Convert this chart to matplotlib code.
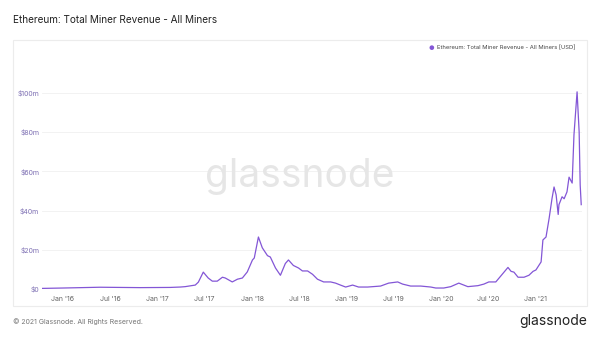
import matplotlib
matplotlib.use("Agg")
import matplotlib.pyplot as plt
import matplotlib.dates as mdates
from matplotlib.patches import Rectangle
import numpy as np
import pandas as pd

plt.rcParams['font.family'] = ['Inter', 'DejaVu Sans']

title = "Ethereum: Total Miner Revenue - All Miners"
series_name = "Ethereum: Total Miner Revenue - All Miners [USD]"

dates = [
    "2015-10-12", "2016-01-01", "2016-05-23", "2016-10-25", "2017-02-18",
    "2017-03-29", "2017-04-17", "2017-05-26", "2017-06-07", "2017-06-26",
    "2017-07-15", "2017-07-31", "2017-08-19", "2017-09-08", "2017-09-19",
    "2017-10-16", "2017-11-05", "2017-11-24", "2017-12-13", "2018-01-02",
    "2018-01-09", "2018-01-25", "2018-02-09", "2018-03-01", "2018-03-12",
    "2018-04-01", "2018-04-20", "2018-05-09", "2018-05-21", "2018-06-09",
    "2018-06-29", "2018-07-14", "2018-08-03", "2018-08-22", "2018-09-10",
    "2018-10-04", "2018-10-31", "2018-11-19", "2018-12-08", "2018-12-28",
    "2019-01-24", "2019-02-16", "2019-03-23", "2019-05-12", "2019-06-12",
    "2019-07-17", "2019-08-05", "2019-09-05", "2019-10-14", "2019-11-22",
    "2019-12-11", "2020-01-11", "2020-02-07", "2020-03-09", "2020-04-13",
    "2020-05-22", "2020-06-14", "2020-07-03", "2020-07-30", "2020-08-27",
    "2020-09-15", "2020-09-27", "2020-10-08", "2020-10-24", "2020-11-16",
    "2020-12-05", "2020-12-21", "2021-01-01", "2021-01-21", "2021-01-28",
    "2021-02-09", "2021-02-21", "2021-03-04", "2021-03-12", "2021-03-20",
    "2021-03-28", "2021-03-31", "2021-04-12", "2021-04-20", "2021-05-01",
    "2021-05-09", "2021-05-21", "2021-05-28", "2021-06-09", "2021-06-17",
    "2021-06-21", "2021-06-25",
]
revenue_musd = [
    0.3, 0.5, 0.9, 0.7, 0.8,
    1.0, 1.2, 2.0, 3.5, 8.6,
    5.6, 4.0, 4.0, 6.0, 5.6,
    3.6, 5.0, 5.6, 8.7, 14.8,
    15.8, 26.5, 21.0, 17.0, 16.3,
    10.7, 7.0, 13.0, 14.8, 12.0,
    10.7, 9.2, 9.2, 7.5, 5.0,
    3.6, 3.6, 3.0, 2.0, 1.0,
    2.0, 1.0, 1.0, 1.5, 3.0,
    3.6, 2.5, 1.5, 1.5, 1.0,
    0.5, 0.5, 1.2, 3.0, 1.2,
    1.7, 2.5, 3.6, 3.6, 8.0,
    11.0, 9.0, 8.6, 6.0, 6.0,
    7.0, 9.0, 9.7, 13.8, 25.0,
    26.5, 36.0, 46.0, 52.0, 48.0,
    38.0, 43.0, 47.0, 46.0, 49.5,
    57.0, 54.0, 78.6, 100.5, 80.0,
    53.0, 43.0,
]
y_ticks = [0, 20, 40, 60, 80, 100]
y_tick_labels = ["$0", "$20m", "$40m", "$60m", "$80m", "$100m"]
x_ticks = ["2016-01-01", "2016-07-01", "2017-01-01", "2017-07-01", "2018-01-01",
           "2018-07-01", "2019-01-01", "2019-07-01", "2020-01-01", "2020-07-01",
           "2021-01-01"]
x_tick_labels = ["Jan '16", "Jul '16", "Jan '17", "Jul '17", "Jan '18",
                 "Jul '18", "Jan '19", "Jul '19", "Jan '20", "Jul '20", "Jan '21"]

d = pd.to_datetime(dates)
xt = pd.to_datetime(x_ticks)

fig = plt.figure(figsize=(6.0, 3.37), dpi=100)
fig.patch.set_facecolor('white')

# panel box
fig.patches.append(Rectangle((13/600, 1-306/337), (587-13)/600, (306-40)/337,
                             transform=fig.transFigure, fill=False,
                             edgecolor='#ececec', linewidth=0.8))

ax = fig.add_axes([42/600, 1-289/337, (582-42)/600, (289-83)/337])
ax.plot(d, revenue_musd, color='#8356d6', linewidth=0.9)
ax.set_xlim(pd.Timestamp("2015-10-12"), pd.Timestamp("2021-06-28"))
ax.set_ylim(0, 105)
ax.set_yticks(y_ticks)
ax.set_yticklabels(y_tick_labels)
ax.set_xticks(xt)
ax.set_xticklabels(x_tick_labels)
ax.tick_params(axis='y', length=0, labelsize=5, labelcolor='#7d6fb3', pad=2)
ax.tick_params(axis='x', length=0, labelsize=5, labelcolor='#666666', pad=5)
for s in ax.spines.values():
    s.set_visible(False)
ax.grid(axis='y', color='#f0f0f0', linewidth=0.6)
ax.set_axisbelow(True)

# watermark
fig.text(0.5, 1-176/337, "glassnode", ha='center', va='center', fontsize=28,
         color='#e6e6e6', zorder=0)

# title
fig.text(13/600, 1-20/337, title, ha='left', va='center', fontsize=7.2,
         color='#222222')

# legend
fig.text(575/600, 1-48/337, series_name, ha='right', va='center',
         fontsize=4.2, color='#444444')
fig.text(431/600, 1-48/337, "\u25cf", ha='center', va='center', fontsize=4.5,
         color='#8356d6')

# footer
fig.text(13/600, 1-322/337, "\u00a9 2021 Glassnode. All Rights Reserved.",
         ha='left', va='center', fontsize=5, color='#777777')
fig.text(587/600, 1-321/337, "glassnode", ha='right', va='center',
         fontsize=10, color='#222222')

fig.savefig("out.png", dpi=100)
